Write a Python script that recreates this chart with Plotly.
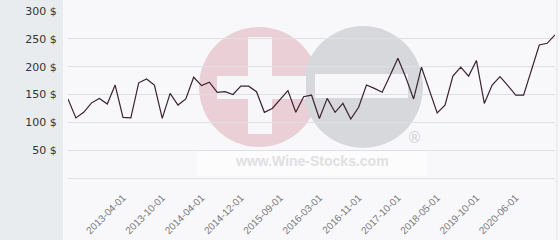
import plotly.graph_objects as go

# ---- data ----
prices = [142, 108, 118, 135, 143, 133, 167, 109, 108, 171,
          178, 167, 107, 152, 131, 142, 181, 166, 172, 154,
          155, 150, 165, 165, 155, 118, 125, 141, 157, 118,
          146, 149, 107, 143, 118, 134, 106, 127, 167, 161,
          154, 184, 215, 181, 142, 199, 158, 117, 131, 183,
          199, 183, 211, 134, 167, 182, 166, 149, 149, 194,
          239, 242, 257]
tick_index = [7, 12, 17, 22, 27, 32, 37, 42, 47, 52, 57]
tick_dates = ["2013-04-01", "2013-10-01", "2014-04-01", "2014-12-01", "2015-09-01",
              "2016-03-01", "2016-11-01", "2017-10-01", "2018-05-01", "2019-10-01",
              "2020-06-01"]
y_ticks = [50, 100, 150, 200, 250, 300]
y_labels = [f"{v} $" for v in y_ticks]

W, H = 560, 240
ML, MR, MT, MB = 68, 5, 11, 62
PW, PH = W - ML - MR, H - MT - MB

# paper coordinates are relative to the plot area
def px(x):
    return (x - ML) / PW
def py(y):
    return (H - MB - y) / PH

x_idx = list(range(len(prices)))

fig = go.Figure()
fig.add_trace(go.Scatter(
    x=x_idx, y=prices, mode="lines",
    line=dict(color="#3b2230", width=1.2),
    hoverinfo="skip", showlegend=False,
))

shapes = []
# left grey panel
shapes.append(dict(type="rect", xref="paper", yref="paper", layer="below",
                   x0=px(0), x1=px(63), y0=py(H), y1=py(0), fillcolor="#e8ecef", line_width=0))
# right thin border
shapes.append(dict(type="line", xref="paper", yref="paper", layer="below",
                   x0=px(557), x1=px(557), y0=py(H), y1=py(0), line=dict(color="#e2e3e6", width=1)))
# watermark: pink circle with white plus
shapes.append(dict(type="circle", xref="paper", yref="paper", layer="below",
                   x0=px(199), x1=px(319), y0=py(147), y1=py(27),
                   fillcolor="#ead0d6", line_width=0))
# watermark: grey circle with white minus
shapes.append(dict(type="circle", xref="paper", yref="paper", layer="below",
                   x0=px(303), x1=px(423), y0=py(148), y1=py(26),
                   fillcolor="#d7d8db", line_width=0))
# plus bars
shapes.append(dict(type="rect", xref="paper", yref="paper", layer="below",
                   x0=px(217), x1=px(306), y0=py(99), y1=py(76),
                   fillcolor="#f7f7fa", line_width=0))
shapes.append(dict(type="rect", xref="paper", yref="paper", layer="below",
                   x0=px(248), x1=px(272), y0=py(134), y1=py(37),
                   fillcolor="#f7f7fa", line_width=0))
# minus bar
shapes.append(dict(type="rect", xref="paper", yref="paper", layer="below",
                   x0=px(315), x1=px(408), y0=py(98), y1=py(74),
                   fillcolor="#f7f7fa", line_width=0))
# white box behind watermark text
shapes.append(dict(type="rect", xref="paper", yref="paper", layer="below",
                   x0=px(197), x1=px(427), y0=py(176), y1=py(151),
                   fillcolor="#fcfcfd", line_width=0))

annotations = [
    dict(text="<b>www.Wine-Stocks.com</b>", xref="paper", yref="paper",
         x=px(312), y=py(161), showarrow=False,
         font=dict(family="Liberation Sans, Arial", size=14, color="#e0e0e2"),
         xanchor="center", yanchor="middle"),
    dict(text="®", xref="paper", yref="paper",
         x=px(414), y=py(138), showarrow=False,
         font=dict(family="DejaVu Sans", size=15, color="#d3d3d6"),
         xanchor="center", yanchor="middle"),
]

fig.update_layout(
    width=W, height=H,
    margin=dict(l=ML, r=MR, t=MT, b=MB, pad=0, autoexpand=False),
    paper_bgcolor="#f8f8fa",
    plot_bgcolor="rgba(0,0,0,0)",
    shapes=shapes,
    annotations=annotations,
    showlegend=False,
    xaxis=dict(
        range=[0, len(prices) - 1],
        tickmode="array", tickvals=tick_index, ticktext=tick_dates,
        tickangle=-45,
        tickfont=dict(family="Liberation Sans, Arial", size=10, color="#7a7a7a"),
        showgrid=False, zeroline=False, showline=False,
        ticks="outside", ticklen=9, tickcolor="rgba(0,0,0,0)",
        automargin=False,
        fixedrange=True,
    ),
    yaxis=dict(
        range=[0, 300],
        tickmode="array", tickvals=y_ticks, ticktext=y_labels,
        tickfont=dict(family="DejaVu Sans", size=11, color="#333333"),
        showgrid=True, gridcolor="#dfe0e5", gridwidth=1,
        zeroline=True, zerolinecolor="#dfe0e5", zerolinewidth=1,
        showline=False,
        ticks="outside", ticklen=8, tickcolor="rgba(0,0,0,0)",
        automargin=False,
        fixedrange=True,
    ),
)

fig.write_html("out.html", config={"displayModeBar": False})
